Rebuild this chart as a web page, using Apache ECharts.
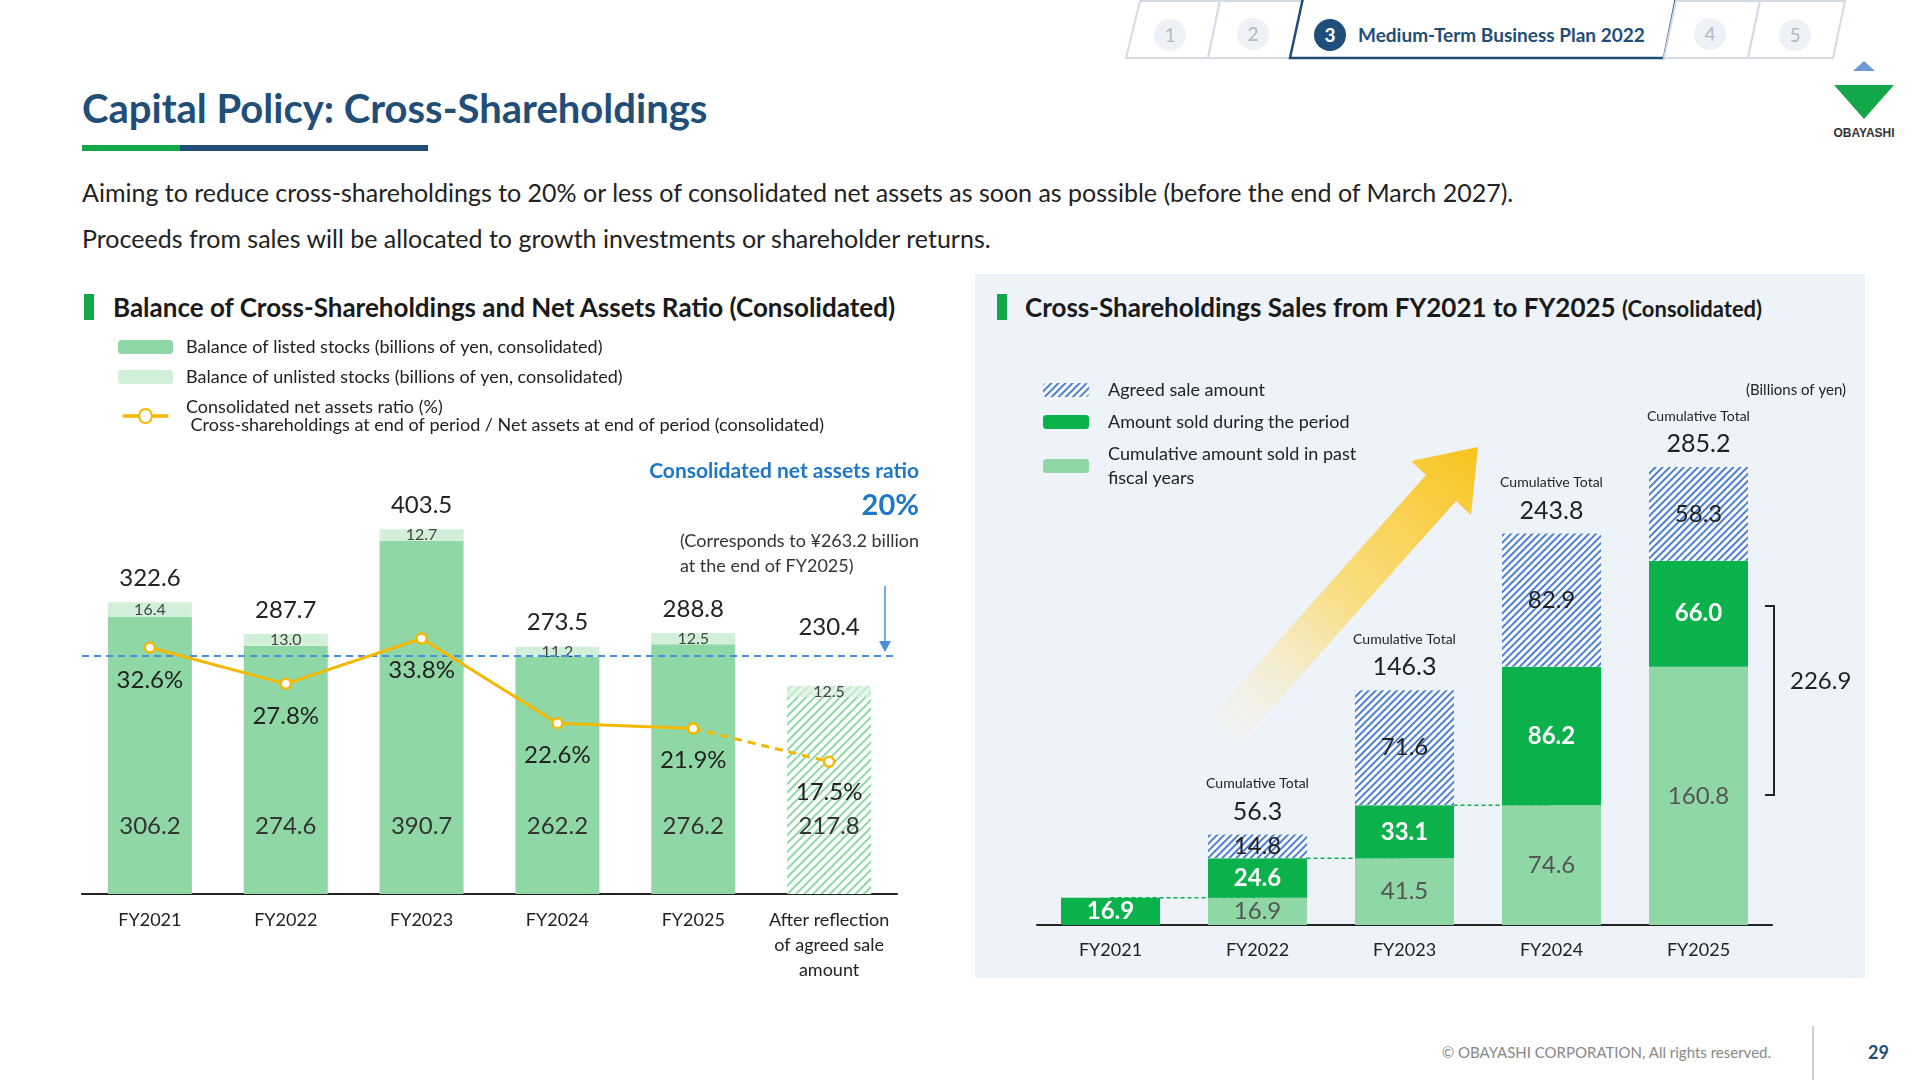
<!DOCTYPE html>
<html><head><meta charset="utf-8">
<script src="https://cdn.jsdelivr.net/npm/echarts@6/dist/echarts.min.js"></script>
<style>
html,body{margin:0;padding:0;width:1920px;height:1080px;overflow:hidden;background:#fff;font-family:Lato,"Noto Sans",sans-serif;}
.abs{position:absolute;white-space:nowrap;}
</style></head><body>
<div class="abs" style="left:975px;top:274px;width:890px;height:704px;background:#eef3fa;"></div>
<svg class="abs" style="left:0;top:0" width="1920" height="70">
 <polygon points="1140,1 1220,1 1208,58 1126,58" fill="#fff" stroke="#d5dbe3" stroke-width="2"/>
 <polygon points="1220,1 1303,1 1291,58 1208,58" fill="#fff" stroke="#d5dbe3" stroke-width="2"/>
 <polygon points="1303,-2 1676,-2 1664,58 1290,58" fill="#fff" stroke="#1f4e79" stroke-width="2.5"/>
 <polygon points="1676,1 1760,1 1748,58 1664,58" fill="#fff" stroke="#d5dbe3" stroke-width="2"/>
 <polygon points="1760,1 1845,1 1833,58 1748,58" fill="#fff" stroke="#d5dbe3" stroke-width="2"/>
 <circle cx="1170" cy="35" r="16" fill="#eef1f5"/><text x="1170" y="42" text-anchor="middle" font-size="19" fill="#b5b8bd" font-family="Lato">1</text>
 <circle cx="1253" cy="34" r="16" fill="#eef1f5"/><text x="1253" y="41" text-anchor="middle" font-size="19" fill="#b5b8bd" font-family="Lato">2</text>
 <circle cx="1330" cy="35" r="16" fill="#1f4e79"/><text x="1330" y="42" text-anchor="middle" font-size="19" font-weight="bold" fill="#fff" font-family="Lato">3</text>
 <text x="1358" y="42" font-size="19" font-weight="bold" fill="#1f4e79" font-family="Lato">Medium-Term Business Plan 2022</text>
 <circle cx="1710" cy="34" r="16" fill="#eef1f5"/><text x="1710" y="41" text-anchor="middle" font-size="19" fill="#b5b8bd" font-family="Lato">4</text>
 <circle cx="1795" cy="35" r="16" fill="#eef1f5"/><text x="1795" y="42" text-anchor="middle" font-size="19" fill="#b5b8bd" font-family="Lato">5</text>
</svg>
<svg class="abs" style="left:1820px;top:55px" width="90" height="90">
 <polygon points="44,6 55,16 33,16" fill="#6c9bd2"/>
 <polygon points="14,30 74,30 44,64" fill="#12a84a"/>
 <text x="44" y="82" text-anchor="middle" font-size="12" font-weight="bold" fill="#333" font-family="Liberation Sans">OBAYASHI</text>
</svg>
<div class="abs" style="left:82px;top:84px;font-size:40px;font-weight:bold;color:#1f4e79;">Capital Policy: Cross-Shareholdings</div>
<div class="abs" style="left:82px;top:145px;width:98px;height:6px;background:#12a84a;"></div>
<div class="abs" style="left:180px;top:145px;width:248px;height:6px;background:#1f4e79;"></div>
<div class="abs" style="left:82px;top:177px;font-size:25px;color:#222;">Aiming to reduce cross-shareholdings to 20% or less of consolidated net assets as soon as possible (before the end of March 2027).</div>
<div class="abs" style="left:82px;top:223px;font-size:25px;color:#222;">Proceeds from sales will be allocated to growth investments or shareholder returns.</div>
<div class="abs" style="left:84px;top:294px;width:10px;height:26px;background:#12a84a;"></div>
<div class="abs" style="left:113px;top:291px;font-size:26px;font-weight:bold;color:#1a1a1a;">Balance of Cross-Shareholdings and Net Assets Ratio (Consolidated)</div>
<div class="abs" style="left:997px;top:294px;width:10px;height:26px;background:#12a84a;"></div>
<div class="abs" style="left:1025px;top:291px;font-size:26px;font-weight:bold;color:#1a1a1a;">Cross-Shareholdings Sales from FY2021 to FY2025 <span style="font-size:22px">(Consolidated)</span></div>
<div class="abs" style="left:1812px;top:1026px;width:2px;height:54px;background:#d0d0d0;"></div>
<div class="abs" style="right:149px;top:1043px;font-size:15px;color:#888;">© OBAYASHI CORPORATION, All rights reserved.</div>
<div class="abs" style="left:1868px;top:1041px;font-size:18px;font-weight:bold;color:#1f4e79;">29</div>
<div id="c" class="abs" style="left:0;top:0;width:1920px;height:1080px;"></div>
<script>
// Left chart data
const leftCats = ['FY2021','FY2022','FY2023','FY2024','FY2025','After reflection\nof agreed sale\namount'];
const listed = [306.2,274.6,390.7,262.2,276.2,217.8];
const unlisted = [16.4,13.0,12.7,11.2,12.5,12.5];
const totals = [322.6,287.7,403.5,273.5,288.8,230.4];
const ratios = [32.6,27.8,33.8,22.6,21.9,17.5];
const targetBalance = 263.2;
// Right chart data
const rightCats = ['FY2021','FY2022','FY2023','FY2024','FY2025'];
const pastSold = [0,16.9,41.5,74.6,160.8];
const periodSold = [16.9,24.6,33.1,86.2,66.0];
const agreedSale = [0,14.8,71.6,82.9,58.3];
const cumTotals = [null,56.3,146.3,243.8,285.2];

const F = 'Lato, "Noto Sans", sans-serif';
const hatchG = {symbol:'rect',symbolSize:1,dashArrayX:[1,0],dashArrayY:[2,4],rotation:-Math.PI/4,color:'#8fd8a5'};
const hatchB = {symbol:'rect',symbolSize:1,dashArrayX:[1,0],dashArrayY:[2,3],rotation:-Math.PI/4,color:'#4a7fd4'};
const chart = echarts.init(document.getElementById('c'));
const sep=(arr,from,to)=>arr.map((v,i)=>i===from||i===to?v:null);
chart.setOption({
 animation:false,
 textStyle:{fontFamily:F},
 grid:[{left:82,top:487,width:815,height:407},{left:1037,top:395,width:735,height:530}],
 xAxis:[
  {gridIndex:0,type:'category',data:leftCats,axisTick:{show:false},axisLine:{lineStyle:{color:'#222',width:2}},axisLabel:{interval:0,fontSize:18,color:'#222',lineHeight:25,margin:14,fontFamily:F}},
  {gridIndex:1,type:'category',data:rightCats,axisTick:{show:false},axisLine:{lineStyle:{color:'#222',width:2}},axisLabel:{interval:0,fontSize:18,color:'#222',margin:16,fontFamily:F}}
 ],
 yAxis:[
  {gridIndex:0,min:0,max:450,show:false},
  {gridIndex:0,min:0,max:53.84,show:false},
  {gridIndex:1,min:0,max:330,show:false}
 ],
 legend:[
  {left:113,top:333,orient:'vertical',itemGap:12,itemWidth:55,itemHeight:14,textStyle:{fontSize:18,color:'#222',fontFamily:F,padding:[0,0,0,8]},
   data:['Balance of listed stocks (billions of yen, consolidated)','Balance of unlisted stocks (billions of yen, consolidated)',
    {name:'Consolidated net assets ratio (%)',icon:'path://M0,6 L20,6 A8,8 0 1 1 36,6 L56,6 L56,8 L36,8 A8,8 0 1 1 20,8 L0,8 Z'}],
   formatter:n=>n==='Consolidated net assets ratio (%)'?n+'\n Cross-shareholdings at end of period / Net assets at end of period (consolidated)':n},
  {left:1038,top:373,orient:'vertical',itemGap:8,itemWidth:46,itemHeight:14,textStyle:{fontSize:18,color:'#222',fontFamily:F,padding:[0,0,0,14],lineHeight:24},
   data:['Agreed sale amount','Amount sold during the period','Cumulative amount sold in past\nfiscal years']}
 ],
 graphic:[
  {type:'text',right:1001,top:461,style:{text:'Consolidated net assets ratio',font:'bold 21px '+F,fill:'#1f77c8'}},
  {type:'text',right:1001,top:491,style:{text:'20%',font:'bold 29px '+F,fill:'#1f77c8'}},
  {type:'text',right:1001,top:529,style:{text:'(Corresponds to ¥263.2 billion\nat the end of FY2025)',font:'18px '+F,fill:'#333',align:'right',lineHeight:25}},
  {type:'line',shape:{x1:885,y1:586,x2:885,y2:644},style:{stroke:'#4a90d9',lineWidth:1.5}},
  {type:'polygon',shape:{points:[[879,641],[891,641],[885,652]]},style:{fill:'#4a90d9'}},
  {type:'polygon',z:0,shape:{points:[[1238,746],[1456,501],[1471,515],[1478,447],[1411,461],[1426,475],[1208,720]]},
   style:{fill:new echarts.graphic.LinearGradient(0,1,1,0,[{offset:0,color:'rgba(255,240,200,0)'},{offset:0.5,color:'rgba(252,214,90,0.75)'},{offset:1,color:'#f7c21a'}])}},
  {type:'polyline',shape:{points:[[1765,606],[1774,606],[1774,795],[1765,795]]},style:{stroke:'#222',lineWidth:2,fill:null}},
  {type:'text',left:1790,top:669,style:{text:'226.9',font:'24px '+F,fill:'#222'}},
  {type:'text',right:74,top:383,style:{text:'(Billions of yen)',font:'15px '+F,fill:'#222'}}
 ],
 series:[
  {name:'Balance of listed stocks (billions of yen, consolidated)',type:'bar',stack:'L',xAxisIndex:0,yAxisIndex:0,barWidth:84,
   itemStyle:{color:'#8fd8a5'},
   data:listed.map((v,i)=>i===5?{value:v,itemStyle:{color:'#ffffff',decal:hatchG}}:v),
   label:{show:true,position:'insideBottom',distance:56,fontSize:24,color:'#333',fontFamily:F}},
  {name:'Balance of unlisted stocks (billions of yen, consolidated)',type:'bar',stack:'L',xAxisIndex:0,yAxisIndex:0,
   itemStyle:{color:'#d2efd9'},
   data:unlisted.map((v,i)=>i===5?{value:v,itemStyle:{color:'#e4f5e8',decal:Object.assign({},hatchG,{color:'#c5e9cf'})}}:v),
   label:{show:true,position:'inside',fontSize:16,color:'#444',fontFamily:F,formatter:p=>p.value.toFixed(1)}},
  {name:'tot',type:'bar',stack:'L',xAxisIndex:0,yAxisIndex:0,data:totals.map((v,i)=>({value:0,label:{distance:i===5?46:12}})),
   label:{show:true,position:'top',fontSize:24,color:'#222',fontFamily:F,formatter:p=>totals[p.dataIndex].toFixed(1)}},
  {name:'Consolidated net assets ratio (%)',type:'line',xAxisIndex:0,yAxisIndex:1,data:ratios.map((v,i)=>i<5?v:null),
   lineStyle:{color:'#f5b800',width:3},itemStyle:{color:'#fff',borderColor:'#f5b800',borderWidth:2.5},symbol:'circle',symbolSize:10,z:5,
   label:{show:true,position:'bottom',distance:14,fontSize:24,color:'#222',fontFamily:F,formatter:p=>p.value.toFixed(1)+'%'}},
  {name:'ratioDash',type:'line',xAxisIndex:0,yAxisIndex:1,data:ratios.map((v,i)=>i>=4?v:null),
   lineStyle:{color:'#f5b800',width:3,type:[8,6]},itemStyle:{color:'#fff',borderColor:'#f5b800',borderWidth:2.5},symbol:'circle',symbolSize:10,z:4,
   label:{show:true,position:'bottom',distance:12,fontSize:24,color:'#222',fontFamily:F,formatter:p=>p.dataIndex===5?p.value.toFixed(1)+'%':''}},
  {name:'target',type:'line',xAxisIndex:0,yAxisIndex:0,data:[],
   markLine:{symbol:'none',silent:true,label:{show:false},lineStyle:{color:'#4a90d9',type:[7,5],width:2},data:[{yAxis:targetBalance}]}},
  {name:'Cumulative amount sold in past\nfiscal years',type:'bar',stack:'R',xAxisIndex:1,yAxisIndex:2,barWidth:99,
   itemStyle:{color:'#8fd8a5'},data:pastSold,
   label:{show:true,position:'inside',fontSize:24,color:'#555',fontFamily:F,formatter:p=>p.value?p.value.toFixed(1):''}},
  {name:'Amount sold during the period',type:'bar',stack:'R',xAxisIndex:1,yAxisIndex:2,
   itemStyle:{color:'#0bb14a'},data:periodSold,
   label:{show:true,position:'inside',fontSize:24,fontWeight:'bold',color:'#fff',fontFamily:F,formatter:p=>p.value.toFixed(1)}},
  {name:'Agreed sale amount',type:'bar',stack:'R',xAxisIndex:1,yAxisIndex:2,
   itemStyle:{color:'#ffffff',decal:hatchB},data:agreedSale,
   label:{show:true,position:'inside',fontSize:24,color:'#222',fontFamily:F,formatter:p=>p.value?p.value.toFixed(1):''}},
  {name:'cum',type:'bar',stack:'R',xAxisIndex:1,yAxisIndex:2,data:cumTotals.map(()=>0),
   label:{show:true,position:'top',distance:8,fontFamily:F,align:'center',
    formatter:p=>cumTotals[p.dataIndex]==null?'':'{s|Cumulative Total}\n{b|'+cumTotals[p.dataIndex].toFixed(1)+'}',
    rich:{s:{fontSize:14,color:'#222',lineHeight:26,fontFamily:F},b:{fontSize:25,color:'#222',lineHeight:30,fontFamily:F}}}},
  {name:'c1',type:'line',xAxisIndex:1,yAxisIndex:2,z:1,symbol:'none',data:sep([16.9,16.9,null,null,null],0,1),lineStyle:{color:'#0bb14a',width:1.5,type:[4,3]}},
  {name:'c2',type:'line',xAxisIndex:1,yAxisIndex:2,z:1,symbol:'none',data:sep([null,41.5,41.5,null,null],1,2),lineStyle:{color:'#0bb14a',width:1.5,type:[4,3]}},
  {name:'c3',type:'line',xAxisIndex:1,yAxisIndex:2,z:1,symbol:'none',data:sep([null,null,74.6,74.6,null],2,3),lineStyle:{color:'#0bb14a',width:1.5,type:[4,3]}}
 ]
});
</script>
</body></html>
